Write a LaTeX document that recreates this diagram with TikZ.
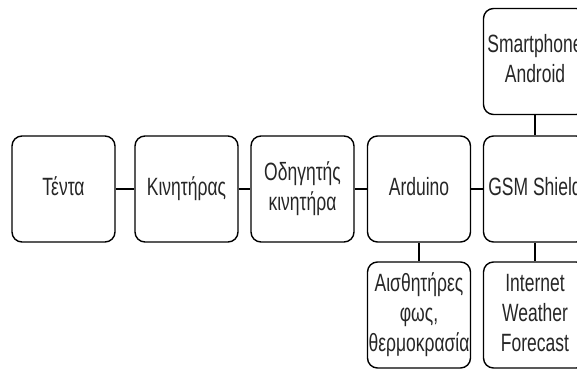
\documentclass[tikz,border=0pt]{standalone}
\usepackage{fontspec}
\setmainfont{Liberation Sans}
\newcommand{\boxtext}[1]{\scalebox{0.7}[1]{\fontsize{25}{30}\selectfont\begin{tabular}{@{}c@{}}#1\end{tabular}}}
\begin{document}
\begin{tikzpicture}[x=1pt,y=-1pt,
  unit/.style={draw=black, line width=1.4pt, rounded corners=10pt,
    minimum width=103pt, minimum height=106pt, inner sep=0pt,
    text=black!85},
  link/.style={draw=black, line width=1.4pt}]
\useasboundingbox (0,0) rectangle (577,369);
\clip (0,0) rectangle (577,369);
% middle row
\node[unit] (tenta) at (63.5,189) {\boxtext{Τέντα}};
\node[unit] (motor) at (186.5,189) {\boxtext{Κινητήρας}};
\node[unit] (driver) at (302.5,189) {\boxtext{Οδηγητής\\κινητήρα}};
\node[unit] (arduino) at (419,189) {\boxtext{Arduino}};
\node[unit] (gsm) at (535,189) {\boxtext{GSM Shield}};
% top row
\node[unit] (phone) at (535,61.5) {\boxtext{Smartphone\\Android}};
% bottom row
\node[unit] (sensors) at (419,315) {\boxtext{Αισθητήρες\\φως,\\θερμοκρασία}};
\node[unit] (weather) at (535,315) {\boxtext{Internet\\Weather\\Forecast}};
% connectors
\draw[link] (tenta) -- (motor);
\draw[link] (motor) -- (driver);
\draw[link] (driver) -- (arduino);
\draw[link] (arduino) -- (gsm);
\draw[link] (phone) -- (gsm);
\draw[link] (arduino) -- (sensors);
\draw[link] (gsm) -- (weather);
\end{tikzpicture}
\end{document}
